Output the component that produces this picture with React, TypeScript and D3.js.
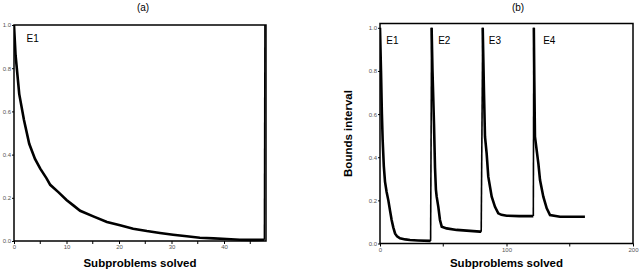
import { useEffect, useRef } from 'react'
import * as d3 from 'd3'

// Panel (a): single run E1 (then restart of the next run at the right edge)
const aX = [0, 0.3, 1, 1.9, 2.9, 4, 5, 6.2, 6.9, 8.5, 10, 11.3, 12.6, 15.1, 17.7, 20.2, 22.7, 25.3, 27.8, 30.3, 32.9, 35.4, 38, 40.5, 43, 45.6, 47.7]
const aY = [1.0, 0.86, 0.68, 0.56, 0.45, 0.38, 0.335, 0.29, 0.26, 0.225, 0.19, 0.165, 0.14, 0.114, 0.088, 0.073, 0.057, 0.046, 0.037, 0.029, 0.022, 0.015, 0.012, 0.009, 0.006, 0.005, 0.006]
const aRestart = [47.8]

// Panel (b): four runs E1..E4
const e1X = [0, 0.8, 1.5, 2.1, 3, 3.95, 5.2, 6.6, 8, 9.2, 10.5, 11.9, 13.5, 15.8, 20, 23.7, 30, 39.5, 40]
const e1Y = [1.0, 0.8, 0.6, 0.48, 0.36, 0.287, 0.24, 0.2, 0.15, 0.109, 0.075, 0.047, 0.033, 0.024, 0.019, 0.016, 0.014, 0.012, 0.012]
const e2X = [40.8, 41.5, 42.7, 43.5, 44.2, 44.8, 46.1, 47.4, 48.8, 52.7, 60.6, 79, 80]
const e2Y = [1.0, 0.8, 0.55, 0.35, 0.25, 0.217, 0.17, 0.109, 0.078, 0.07, 0.063, 0.055, 0.055]
const e3X = [81.2, 82.2, 83, 84.3, 85.6, 88.3, 90.9, 93.5, 96, 100.2, 110, 121.2]
const e3Y = [1.0, 0.7, 0.495, 0.418, 0.31, 0.217, 0.17, 0.14, 0.133, 0.129, 0.127, 0.127]
const e4X = [121.6, 122, 122.5, 125.2, 126.5, 129.1, 131.8, 134.4, 142.3, 162]
const e4Y = [1.0, 0.75, 0.495, 0.37, 0.294, 0.217, 0.163, 0.132, 0.124, 0.124]

const aXTicks = [0, 10, 20, 30, 40]
const aXMinor = [5, 15, 25, 35, 45]
const bXTicks = [0, 100, 200]
const bXMinor = [50, 150]
const yTicks = [0, 0.2, 0.4, 0.6, 0.8, 1.0]

const bLabels = [
  { name: 'E1', x: 5 },
  { name: 'E2', x: 46 },
  { name: 'E3', x: 86 },
  { name: 'E4', x: 129 },
]

const App = () => {
  const svgRef = useRef<SVGSVGElement | null>(null)

  useEffect(() => {
    if (!svgRef.current) return
    const svg = d3.select(svgRef.current)
    svg.selectAll('*').remove()

    const font = 'Liberation Sans, Arial, sans-serif'

    const drawPanel = (opts: any) => {
      const { id, x, y, runs, restarts, xTicks, xMinor, title, titleX } = opts
      const g = svg.append('g')

      g.append('defs')
        .append('clipPath')
        .attr('id', id)
        .append('rect')
        .attr('x', x.range()[0])
        .attr('y', y.range()[1] - 2)
        .attr('width', x.range()[1] - x.range()[0] + 1)
        .attr('height', y.range()[0] - y.range()[1] + 4)

      // title
      g.append('text')
        .attr('x', titleX)
        .attr('y', 11)
        .attr('text-anchor', 'middle')
        .style('font-family', font)
        .style('font-size', '10px')
        .text(title)

      // x axis
      const xAxis = g.append('g')
        .attr('transform', `translate(0,${y.range()[0]})`)
        .call(d3.axisBottom(x).tickValues(xTicks).tickSize(3).tickPadding(1).tickFormat(d3.format('d')))
      xAxis.select('.domain').remove()
      xAxis.selectAll('line').attr('stroke', '#000').attr('stroke-width', 1)
      xAxis.selectAll('text')
        .style('font-family', font)
        .style('font-size', '6px')
        .style('fill', '#555')
      g.selectAll('.minor')
        .data(xMinor)
        .enter()
        .append('line')
        .attr('x1', (d: number) => x(d))
        .attr('x2', (d: number) => x(d))
        .attr('y1', y.range()[0])
        .attr('y2', y.range()[0] + 3)
        .attr('stroke', '#000')

      // y axis
      const yAxis = g.append('g')
        .attr('transform', `translate(${x.range()[0]},0)`)
        .call(d3.axisLeft(y).tickValues(yTicks).tickSize(2).tickPadding(1).tickFormat(d3.format('.1f')))
      yAxis.select('.domain').remove()
      yAxis.selectAll('line').attr('stroke', '#000')
      yAxis.selectAll('text')
        .style('font-family', font)
        .style('font-size', '6px')
        .style('fill', '#555')

      // frame
      g.append('rect')
        .attr('x', x.range()[0])
        .attr('y', y.range()[1])
        .attr('width', x.range()[1] - x.range()[0])
        .attr('height', y.range()[0] - y.range()[1])
        .attr('fill', 'none')
        .attr('stroke', '#000')
        .attr('stroke-width', 1.5)

      const data = g.append('g').attr('clip-path', `url(#${id})`)

      // thin restart lines: end of a run back up to the start of the next
      restarts.forEach((r: any) => {
        data.append('line')
          .attr('x1', x(r.x0))
          .attr('y1', y(r.y0))
          .attr('x2', x(r.x1))
          .attr('y2', y(1.0))
          .attr('stroke', '#000')
          .attr('stroke-width', 1.6)
      })

      // thick run curves
      runs.forEach((run: any) => {
        const line = d3.line<number>()
          .x((d, i) => x(run.xs[i]))
          .y((d) => y(d))
        data.append('path')
          .datum(run.ys)
          .attr('d', line)
          .attr('fill', 'none')
          .attr('stroke', '#000')
          .attr('stroke-width', 2.6)
      })

      // x label
      g.append('text')
        .attr('x', (x.range()[0] + x.range()[1]) / 2)
        .attr('y', 267)
        .attr('text-anchor', 'middle')
        .style('font-family', font)
        .style('font-size', '11.5px')
        .style('font-weight', 'bold')
        .text('Subproblems solved')

      return g
    }

    const restartsOf = (runs: any[]) =>
      runs.slice(1).map((run, i) => {
        const prev = runs[i]
        return {
          x0: prev.xs[prev.xs.length - 1],
          y0: prev.ys[prev.ys.length - 1],
          x1: run.xs[0],
        }
      })

    const xa = d3.scaleLinear().domain([0, 48]).range([14, 266])
    const ya = d3.scaleLinear().domain([0, 1]).range([241, 25])
    const aRuns = [{ xs: aX, ys: aY }]
    const ga = drawPanel({
      id: 'clipA', x: xa, y: ya, runs: aRuns,
      restarts: restartsOf([...aRuns, { xs: aRestart, ys: [1.0] }]),
      xTicks: aXTicks, xMinor: aXMinor, title: '(a)', titleX: 143,
    })
    ga.append('text')
      .attr('x', xa(2.4))
      .attr('y', 42)
      .style('font-family', font)
      .style('font-size', '10px')
      .text('E1')

    const xb = d3.scaleLinear().domain([0, 200]).range([380, 633])
    const yb = d3.scaleLinear().domain([0, 1.02]).range([243.5, 23.5])
    const bRuns = [
      { xs: e1X, ys: e1Y },
      { xs: e2X, ys: e2Y },
      { xs: e3X, ys: e3Y },
      { xs: e4X, ys: e4Y },
    ]
    const gb = drawPanel({
      id: 'clipB', x: xb, y: yb, runs: bRuns, restarts: restartsOf(bRuns),
      xTicks: bXTicks, xMinor: bXMinor, title: '(b)', titleX: 518,
    })
    gb.selectAll('.elabel')
      .data(bLabels)
      .enter()
      .append('text')
      .attr('x', (d) => xb(d.x))
      .attr('y', 44)
      .style('font-family', font)
      .style('font-size', '10px')
      .text((d) => d.name)

    gb.append('text')
      .attr('transform', `translate(352,${(yb.range()[0] + yb.range()[1]) / 2}) rotate(-90)`)
      .attr('text-anchor', 'middle')
      .style('font-family', font)
      .style('font-size', '11.5px')
      .style('font-weight', 'bold')
      .text('Bounds interval')
  }, [])

  return (
    <svg
      ref={svgRef}
      width={640}
      height={271}
      style={{ position: 'absolute', left: 0, top: 0, background: '#fff' }}
    />
  )
}

export default App
